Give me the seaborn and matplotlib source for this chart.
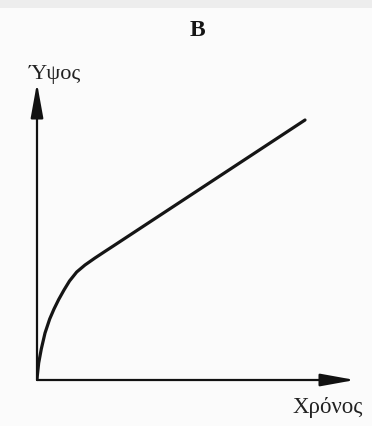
import matplotlib
matplotlib.use("Agg")
import matplotlib.pyplot as plt
import seaborn as sns
import numpy as np
import pandas as pd

# ---- data (arbitrary units) ----
time = [0.0, 0.009, 0.053, 0.135, 0.252, 0.399, 0.535, 0.682, 0.849, 1.022,
        1.248, 1.509, 1.824, 2.138, 2.399, 8.428]
height = [0.0, 0.135, 0.572, 1.044, 1.582, 2.054, 2.391, 2.710, 3.030, 3.333,
          3.636, 3.872, 4.108, 4.330, 4.512, 8.754]

panel_title = "B"
y_label = "Ύψος"
x_label = "Χρόνος"

df = pd.DataFrame({"time": time, "height": height})

sns.set_style("white")
plt.rcParams["font.family"] = ["Liberation Serif", "DejaVu Serif"]

W, H = 372, 426
fig = plt.figure(figsize=(W / 100, H / 100), dpi=100, facecolor="#fbfbfb")

# light strip at the very top of the scan
fig.patches.append(plt.Rectangle((0, 1 - 8 / H), 1, 8 / H, transform=fig.transFigure,
                                 facecolor="#ededed", edgecolor="none", zorder=0))

# axes: origin at (37, 380) px, arrow tips at x=355 / y=83 px
x0, y0, x1, y1 = 37, 380, 355, 83
ax = fig.add_axes([x0 / W, 1 - y0 / H, (x1 - x0) / W, (y0 - y1) / H])
ax.set_facecolor("none")
ax.set_xlim(0, 10)
ax.set_ylim(0, 10)

sns.lineplot(data=df, x="time", y="height", ax=ax, sort=False, estimator=None,
             color="#151515", lw=2.3, solid_capstyle="round", solid_joinstyle="round")

for s in ax.spines.values():
    s.set_visible(False)
ax.set_xticks([])
ax.set_yticks([])
ax.set_xlabel("")
ax.set_ylabel("")

arrow = dict(arrowstyle="-|>,head_length=2.1,head_width=0.38", lw=1.6,
             color="#111111", shrinkA=0, shrinkB=0)
ax.annotate("", xy=(1, 0), xytext=(0, 0), xycoords="axes fraction",
            textcoords="axes fraction", arrowprops=arrow, annotation_clip=False)
ax.annotate("", xy=(0, 1), xytext=(0, 0), xycoords="axes fraction",
            textcoords="axes fraction", arrowprops=arrow, annotation_clip=False)

fig.text(197 / W, 1 - 30 / H, panel_title, ha="center", va="center",
         fontsize=17, fontweight="bold", color="#151515")
fig.text(29 / W, 1 - 74 / H, y_label, ha="left", va="center",
         fontsize=16, color="#222222")
fig.text(363 / W, 1 - 408 / H, x_label, ha="right", va="center",
         fontsize=16.5, color="#222222")

fig.savefig("out.png", dpi=100, facecolor=fig.get_facecolor())
